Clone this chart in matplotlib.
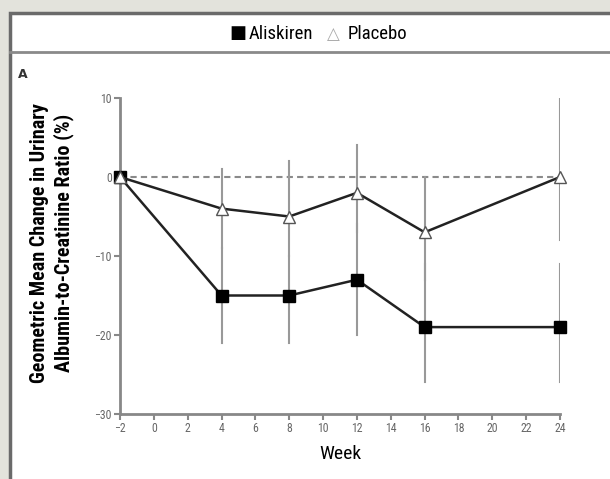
import matplotlib.pyplot as plt
from matplotlib.patches import Rectangle
from matplotlib.lines import Line2D

cond = ['Roboto Condensed', 'DejaVu Sans']

weeks = [-2, 4, 8, 12, 16, 24]
aliskiren = [0, -15, -15, -13, -19, -19]
ali_hi = [0, -9, -10, -6, -11, -11]
ali_lo = [0, -21, -21, -20, -26, -26]
placebo = [0, -4, -5, -2, -7, 0]
pla_hi = [0, 1, 2, 4, 0, 10]
pla_lo = [0, -9, -10, -7, -13, -8]

xticks = list(range(-2, 25, 2))
yticks = [-30, -20, -10, 0, 10]

W, H = 610, 479
fig = plt.figure(figsize=(6.1, 4.79), dpi=100)
fig.patch.set_facecolor('#e3e3dc')

# white panel with dark frame + band under the legend
fig.patches.append(Rectangle((10 / W, -0.1), 1.1, 1 - 13 / H + 0.1, transform=fig.transFigure,
                             facecolor='white', edgecolor='#6a6a6a', linewidth=2.5, zorder=-2))
fig.lines.append(Line2D([10 / W, 1], [1 - 52 / H] * 2, transform=fig.transFigure,
                        color='#8a8a8a', linewidth=2, zorder=-1))

ax = fig.add_axes([120 / W, 1 - 414 / H, 440 / W, 316 / H])
ax.set_facecolor('none')

ax.axhline(0, color='#8a8a8a', linestyle=(0, (3, 2)), linewidth=1.5, zorder=1)

# error bars
for i in range(1, len(weeks)):
    ax.plot([weeks[i], weeks[i]], [pla_lo[i], pla_hi[i]], color='#999999', linewidth=1.5, zorder=2)
    ax.plot([weeks[i], weeks[i]], [ali_lo[i], ali_hi[i]], color='#999999', linewidth=1.5, zorder=2)

ax.plot(weeks, aliskiren, color='#222222', linewidth=1.8, marker='s', markersize=9,
        markerfacecolor='black', markeredgecolor='black', clip_on=False, zorder=4)
ax.plot(weeks, placebo, color='#222222', linewidth=1.8, marker='^', markersize=9,
        markerfacecolor='white', markeredgecolor='#555555', clip_on=False, zorder=5)

ax.set_xlim(-2, 24)
ax.set_ylim(-30, 10)
ax.set_xticks(xticks)
ax.set_yticks(yticks)
ax.tick_params(colors='#888888', labelsize=8.5, length=4, width=1.5, pad=2)
for lab in ax.get_xticklabels() + ax.get_yticklabels():
    lab.set_color('#666666')
    lab.set_family(cond)
for s in ['top', 'right']:
    ax.spines[s].set_visible(False)
for s in ['left', 'bottom']:
    ax.spines[s].set_color('#888888')
    ax.spines[s].set_linewidth(2)

ax.set_xlabel('Week', fontsize=14, family=cond, labelpad=7)
fig.text(52 / W, 1 - 243 / H, 'Geometric Mean Change in Urinary\nAlbumin-to-Creatinine Ratio (%)',
         rotation=90, ha='center', va='center', fontsize=14.5, family=cond,
         fontweight='bold', linespacing=1.25)

fig.text(18 / W, 1 - 75 / H, 'A', fontsize=9, fontweight='bold', color='#333333', va='center')

# legend in the top band
fig.text(229 / W, 1 - 33 / H, '\u25a0', fontsize=13, va='center', ha='left', family='DejaVu Sans')
fig.text(249 / W, 1 - 34 / H, 'Aliskiren', fontsize=13.5, va='center', ha='left', family=cond)
fig.text(327 / W, 1 - 34 / H, '\u25b3', fontsize=12, va='center', ha='left', color='#aaaaaa',
         family='DejaVu Sans')
fig.text(348 / W, 1 - 34 / H, 'Placebo', fontsize=13.5, va='center', ha='left', family=cond)

fig.savefig('out.png', dpi=100, facecolor=fig.get_facecolor())
